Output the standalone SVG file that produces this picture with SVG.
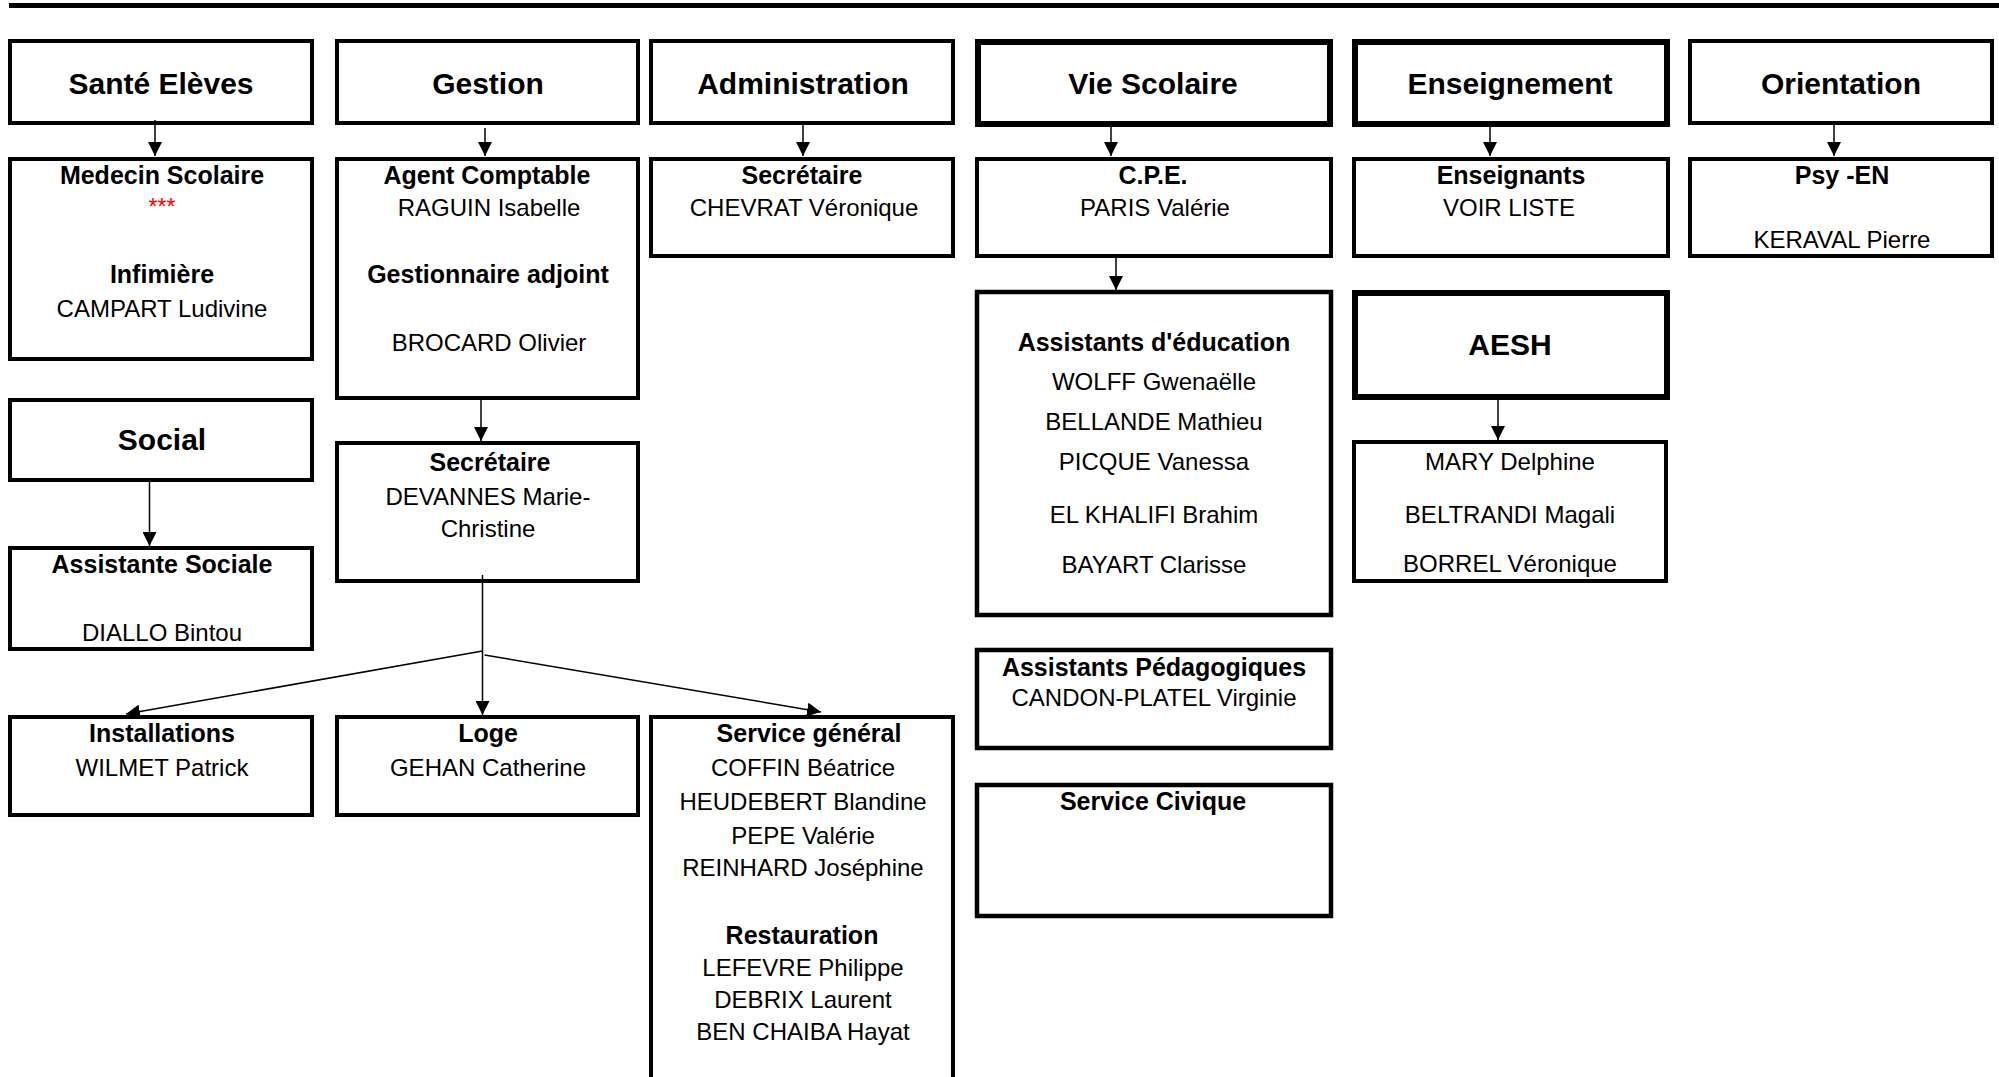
<svg xmlns="http://www.w3.org/2000/svg" width="1999" height="1077" viewBox="0 0 1999 1077">
<defs>
<marker id="ah" markerUnits="userSpaceOnUse" markerWidth="14" markerHeight="14" refX="14" refY="7" orient="auto">
<path d="M0,0 L14,7 L0,14 z" fill="#000"/>
</marker>
<style>
rect.b{fill:#fff;stroke:#000;stroke-width:4}
rect.t{fill:#fff;stroke:#000;stroke-width:6}
rect.m{fill:#fff;stroke:#000;stroke-width:4.5}
text{font-family:"Liberation Sans",Arial,Helvetica,sans-serif;text-anchor:middle;fill:#000}
.h{font-size:30px;font-weight:bold}
.s{font-size:25px;font-weight:bold}
.n{font-size:24px}
.r{font-size:23px;fill:#ff0000}
.c{fill:none;stroke:#000;stroke-width:1.5}
</style>
</defs>
<rect x="9" y="3" width="1990" height="5" fill="#000"/>

<g id="sante"><rect class="b" x="10" y="41" width="302" height="82"/><text class="h" x="161" y="94">Santé Elèves</text></g>
<g id="gestion"><rect class="b" x="337" y="41" width="301" height="82"/><text class="h" x="488" y="94">Gestion</text></g>
<g id="administration"><rect class="b" x="651" y="41" width="302" height="82"/><text class="h" x="803" y="94">Administration</text></g>
<g id="viescolaire"><rect class="t" x="978" y="42" width="352" height="82"/><text class="h" x="1153" y="94">Vie Scolaire</text></g>
<g id="enseignement"><rect class="t" x="1355" y="42" width="312" height="82"/><text class="h" x="1510" y="94">Enseignement</text></g>
<g id="orientation"><rect class="b" x="1690" y="41" width="302" height="82"/><text class="h" x="1841" y="94">Orientation</text></g>

<g id="medecin"><rect class="b" x="10" y="159" width="302" height="200"/>
<text class="s" x="162" y="184">Medecin Scolaire</text>
<text class="r" x="162" y="215">***</text>
<text class="s" x="162" y="283">Infimière</text>
<text class="n" x="162" y="317">CAMPART Ludivine</text></g>

<g id="agent"><rect class="b" x="337" y="159" width="301" height="239"/>
<text class="s" x="487" y="184">Agent Comptable</text>
<text class="n" x="489" y="216">RAGUIN Isabelle</text>
<text class="s" x="488" y="283">Gestionnaire adjoint</text>
<text class="n" x="489" y="351">BROCARD Olivier</text></g>

<g id="secretaire-admin"><rect class="b" x="651" y="159" width="302" height="97"/>
<text class="s" x="802" y="184">Secrétaire</text>
<text class="n" x="804" y="216">CHEVRAT Véronique</text></g>

<g id="cpe"><rect class="b" x="977" y="159" width="354" height="97"/>
<text class="s" x="1153" y="184">C.P.E.</text>
<text class="n" x="1155" y="216">PARIS Valérie</text></g>

<g id="enseignants"><rect class="b" x="1354" y="159" width="314" height="97"/>
<text class="s" x="1511" y="184">Enseignants</text>
<text class="n" x="1509" y="216">VOIR LISTE</text></g>

<g id="psy"><rect class="b" x="1690" y="159" width="302" height="97"/>
<text class="s" x="1842" y="184">Psy -EN</text>
<text class="n" x="1842" y="248">KERAVAL Pierre</text></g>

<g id="social"><rect class="b" x="10" y="400" width="302" height="80"/>
<text class="h" x="162" y="450">Social</text></g>

<g id="assistante-sociale"><rect class="b" x="10" y="548" width="302" height="101"/>
<text class="s" x="162" y="573">Assistante Sociale</text>
<text class="n" x="162" y="641">DIALLO Bintou</text></g>

<g id="secretaire-gestion"><rect class="b" x="337" y="443" width="301" height="138"/>
<text class="s" x="490" y="471">Secrétaire</text>
<text class="n" x="488" y="505">DEVANNES Marie-</text>
<text class="n" x="488" y="537">Christine</text></g>

<g id="assistants-education"><rect class="m" x="977" y="292" width="354" height="323"/>
<text class="s" x="1154" y="351">Assistants d'éducation</text>
<text class="n" x="1154" y="390">WOLFF Gwenaëlle</text>
<text class="n" x="1154" y="430">BELLANDE Mathieu</text>
<text class="n" x="1154" y="470">PICQUE Vanessa</text>
<text class="n" x="1154" y="523">EL KHALIFI Brahim</text>
<text class="n" x="1154" y="573">BAYART Clarisse</text></g>

<g id="aesh"><rect class="t" x="1355" y="293" width="312" height="104"/>
<text class="h" x="1510" y="355">AESH</text></g>

<g id="aesh-membres"><rect class="b" x="1354" y="442" width="312" height="139"/>
<text class="n" x="1510" y="470">MARY Delphine</text>
<text class="n" x="1510" y="523">BELTRANDI Magali</text>
<text class="n" x="1510" y="572">BORREL Véronique</text></g>

<g id="installations"><rect class="b" x="10" y="717" width="302" height="98"/>
<text class="s" x="162" y="742">Installations</text>
<text class="n" x="162" y="776">WILMET Patrick</text></g>

<g id="loge"><rect class="b" x="337" y="717" width="301" height="98"/>
<text class="s" x="488" y="742">Loge</text>
<text class="n" x="488" y="776">GEHAN Catherine</text></g>

<g id="service-general"><rect class="b" x="651" y="717" width="302" height="420"/>
<text class="s" x="809" y="742">Service général</text>
<text class="n" x="803" y="776">COFFIN Béatrice</text>
<text class="n" x="803" y="810">HEUDEBERT Blandine</text>
<text class="n" x="803" y="844">PEPE Valérie</text>
<text class="n" x="803" y="876">REINHARD Joséphine</text>
<text class="s" x="802" y="944">Restauration</text>
<text class="n" x="803" y="976">LEFEVRE Philippe</text>
<text class="n" x="803" y="1008">DEBRIX Laurent</text>
<text class="n" x="803" y="1040">BEN CHAIBA Hayat</text></g>

<g id="assistants-pedagogiques"><rect class="m" x="977" y="650" width="354" height="98"/>
<text class="s" x="1154" y="676">Assistants Pédagogiques</text>
<text class="n" x="1154" y="706">CANDON-PLATEL Virginie</text></g>

<g id="service-civique"><rect class="m" x="977" y="785" width="354" height="131"/>
<text class="s" x="1153" y="810">Service Civique</text></g>

<g id="connectors">
<line class="c" x1="155" y1="120" x2="155" y2="156" marker-end="url(#ah)"/>
<line class="c" x1="485" y1="128" x2="485" y2="156" marker-end="url(#ah)"/>
<line class="c" x1="803" y1="125" x2="803" y2="156" marker-end="url(#ah)"/>
<line class="c" x1="1111" y1="127" x2="1111" y2="156" marker-end="url(#ah)"/>
<line class="c" x1="1490" y1="127" x2="1490" y2="156" marker-end="url(#ah)"/>
<line class="c" x1="1834" y1="125" x2="1834" y2="156" marker-end="url(#ah)"/>
<line class="c" x1="1116" y1="258" x2="1116" y2="290" marker-end="url(#ah)"/>
<line class="c" x1="1498" y1="400" x2="1498" y2="440" marker-end="url(#ah)"/>
<line class="c" x1="149.5" y1="482" x2="149.5" y2="546" marker-end="url(#ah)"/>
<line class="c" x1="481" y1="400" x2="481" y2="441" marker-end="url(#ah)"/>
<line class="c" x1="482.5" y1="575" x2="482.5" y2="715" marker-end="url(#ah)"/>
<line class="c" x1="482.5" y1="651" x2="126" y2="714" marker-end="url(#ah)"/>
<line class="c" x1="484.5" y1="655" x2="821" y2="712" marker-end="url(#ah)"/>
</g>
</svg>
